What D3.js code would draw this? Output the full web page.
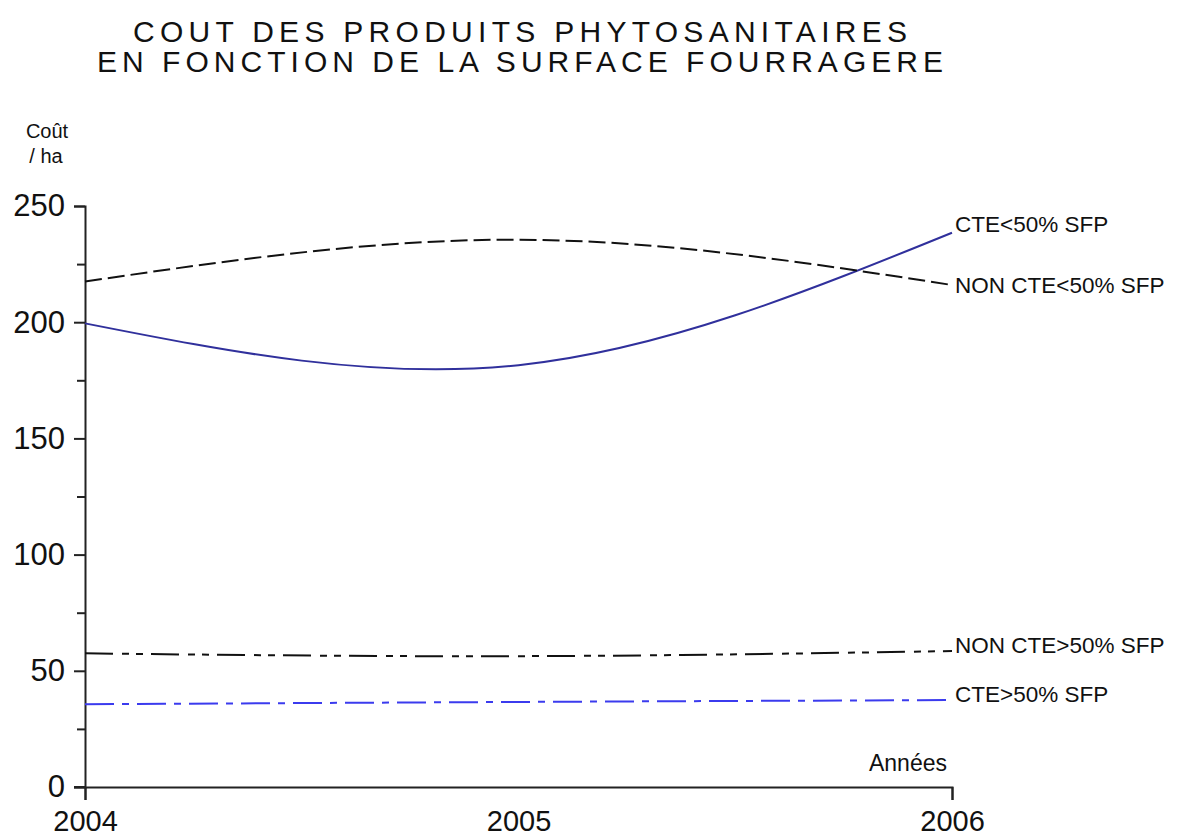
<!DOCTYPE html>
<html><head><meta http-equiv="Content-Type" content="text/html; charset=UTF-8">
    <script src="https://d3js.org/d3.v7.min.js"></script>
    <style>
      body { margin: 0; background: #fff; }
      text { font-family: "Liberation Sans", Arial, sans-serif; fill: #111; }
    </style>
</head>
<body>
    <script type="text/javascript">
      "use strict";
      // Data (cost per ha)
      const years = [2004, 2005, 2006];
      const cteInf50 = [199.5, 181.5, 238.5];      // CTE<50% SFP
      const nonCteInf50 = [217.5, 235.5, 216];     // NON CTE<50% SFP
      const nonCteSup50 = [57.5, 56.3, 58.5];      // NON CTE>50% SFP
      const cteSup50 = [35.6, 36.6, 37.4];         // CTE>50% SFP
      const yTicks = [0, 50, 100, 150, 200, 250];
      const yMinorTicks = [25, 75, 125, 175, 225];

      const series = [
        {name: "CTE<50% SFP", values: cteInf50, color: "#30309c", dash: null, dy: -1},
        {name: "NON CTE<50% SFP", values: nonCteInf50, color: "#111", dash: "17,6", dy: 8},
        {name: "NON CTE>50% SFP", values: nonCteSup50, color: "#111", dash: "28,9,7,7,7,8", dy: 2},
        {name: "CTE>50% SFP", values: cteSup50, color: "#3b3bee", dash: "29,8,7,8", dy: 2}
      ];

      const width = 1178, height = 838;
      const svg = d3.select("body").append("svg")
          .attr("width", width)
          .attr("height", height);

      const x = d3.scaleLinear().domain([2004, 2006]).range([85, 952]);
      const y = d3.scaleLinear().domain([0, 250]).range([787, 206]);

      // Title (two lines)
      svg.append("text")
          .attr("x", 520).attr("y", 42)
          .attr("text-anchor", "middle")
          .attr("textLength", 774).attr("lengthAdjust", "spacing")
          .style("font-size", "30px")
          .text("COUT DES PRODUITS PHYTOSANITAIRES");
      svg.append("text")
          .attr("x", 520).attr("y", 72)
          .attr("text-anchor", "middle")
          .attr("textLength", 846).attr("lengthAdjust", "spacing")
          .style("font-size", "30px")
          .text("EN FONCTION DE LA SURFACE FOURRAGERE");

      // Y axis title
      svg.append("text").attr("x", 47).attr("y", 138)
          .attr("text-anchor", "middle").style("font-size", "20px").text("Coût");
      svg.append("text").attr("x", 46).attr("y", 163)
          .attr("text-anchor", "middle").style("font-size", "20px").text("/ ha");

      // Minor y ticks
      svg.append("g")
          .attr("transform", "translate(85,0)")
          .call(d3.axisLeft(y).tickValues(yMinorTicks).tickSize(8).tickFormat(""))
          .call(g => g.select(".domain").remove())
          .selectAll("line").attr("stroke", "#222").attr("stroke-width", 2);

      // Major y axis
      const yAxis = svg.append("g")
          .attr("transform", "translate(85,0)")
          .call(d3.axisLeft(y).tickValues(yTicks).tickSize(11).tickSizeOuter(11).tickPadding(9));
      yAxis.select(".domain").attr("stroke", "#222").attr("stroke-width", 2);
      yAxis.selectAll("line").attr("stroke", "#222").attr("stroke-width", 2);
      yAxis.selectAll("text").style("font-size", "31px")
          .style("font-family", "'Liberation Sans', Arial, sans-serif").attr("fill", "#111");

      // X axis
      const xAxis = svg.append("g")
          .attr("transform", "translate(0,787)")
          .call(d3.axisBottom(x).tickValues(years).tickFormat(d3.format("d"))
              .tickSize(13).tickSizeOuter(13).tickPadding(10));
      xAxis.select(".domain").attr("stroke", "#222").attr("stroke-width", 2);
      xAxis.selectAll(".tick line").attr("stroke", "#222").attr("stroke-width", 2)
          .attr("opacity", d => d === 2005 ? 0 : 1);
      xAxis.selectAll("text").style("font-size", "29px")
          .style("font-family", "'Liberation Sans', Arial, sans-serif").attr("fill", "#111");
      // extend x axis baseline left across the y axis
      svg.append("line").attr("x1", 74).attr("x2", 85).attr("y1", 787).attr("y2", 787)
          .attr("stroke", "#222").attr("stroke-width", 2);

      svg.append("text").attr("x", 947).attr("y", 771)
          .attr("text-anchor", "end").style("font-size", "23px").text("Années");

      // Series lines
      const line = d3.line()
          .x((d, i) => x(years[i]))
          .y(d => y(d))
          .curve(d3.curveNatural);

      series.forEach(s => {
        svg.append("path")
            .datum(s.values)
            .attr("d", line)
            .attr("fill", "none")
            .attr("stroke", s.color)
            .attr("stroke-width", 2)
            .attr("stroke-dasharray", s.dash);

        const last = s.values[s.values.length - 1];
        svg.append("text")
            .attr("x", 955)
            .attr("y", y(last))
            .attr("dy", s.dy)
            .style("font-size", "22.5px")
            .text(s.name);
      });
    </script>
</body>
</html>
